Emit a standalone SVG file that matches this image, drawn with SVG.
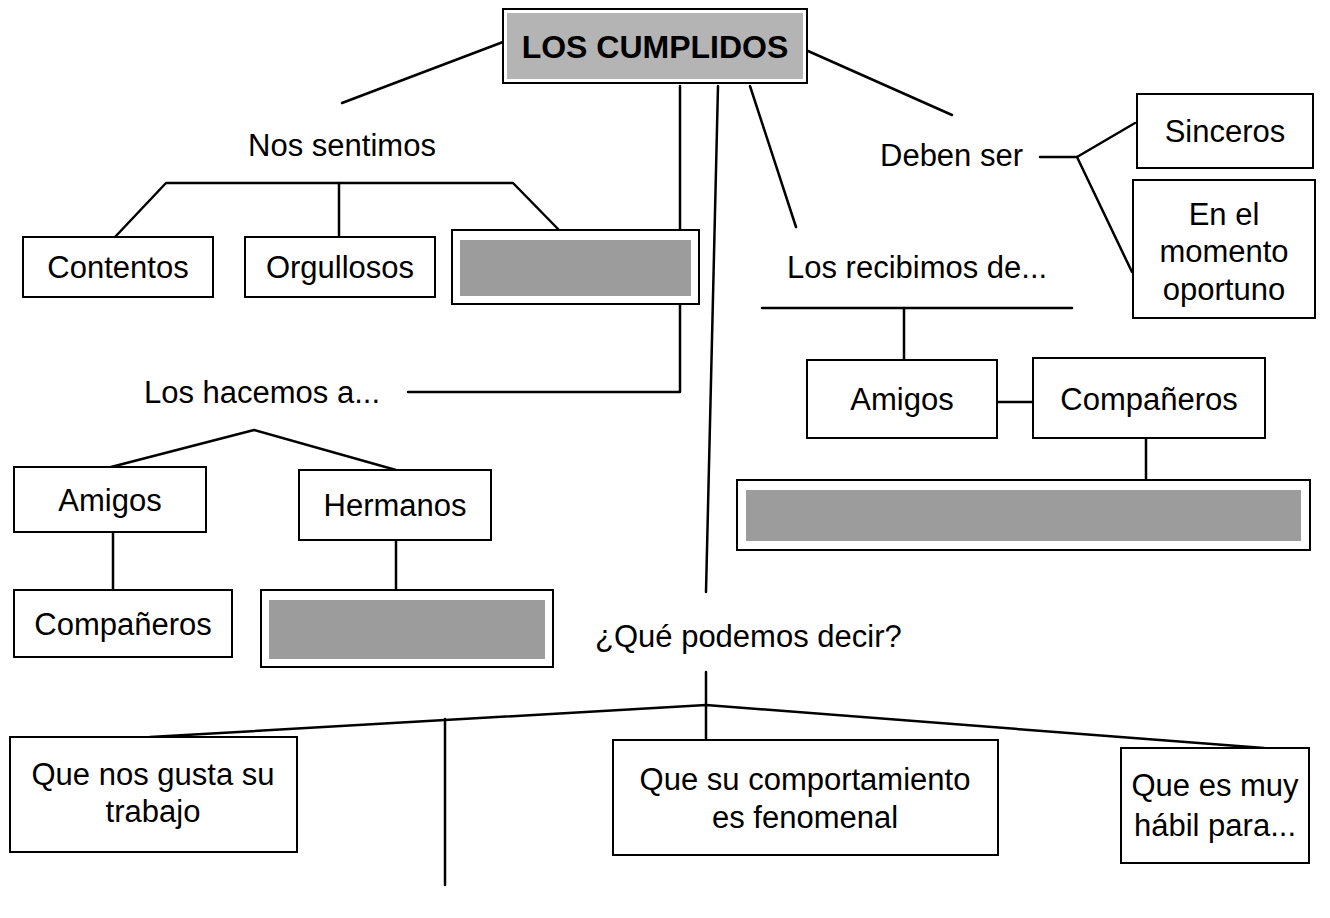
<svg xmlns="http://www.w3.org/2000/svg" width="1330" height="918" viewBox="0 0 1330 918">
<style>
  .bg{fill:#ffffff}
  .box{fill:#ffffff;stroke:#000;stroke-width:2}
  .shade{fill:#9c9c9c}
  .tshade{fill:#b4b4b4}
  .ln{fill:none;stroke:#000;stroke-width:2.5;stroke-linecap:round;stroke-linejoin:round}
  text{font-family:"Liberation Sans",Arial,Helvetica,sans-serif;font-size:31px;fill:#000}
  .c{text-anchor:middle}
  .title{font-weight:bold;font-size:32px}
</style>
<rect class="bg" x="0" y="0" width="1330" height="918"/>

<g id="connectors">
  <path class="ln" d="M503,42 L342,103"/>
  <path class="ln" d="M808,51 L952,115"/>
  <path class="ln" d="M680,86 L680,392 L408,392"/>
  <path class="ln" d="M718,86 L706,592"/>
  <path class="ln" d="M750,86 L796,227"/>
  <path class="ln" d="M115,237 L166,183 L513,183 L559,230"/>
  <path class="ln" d="M339,183 L339,237"/>
  <path class="ln" d="M111,467 L254,430 L396,470"/>
  <path class="ln" d="M113,532 L113,590"/>
  <path class="ln" d="M396,540 L396,590"/>
  <path class="ln" d="M1040,157 L1077,157 L1135,123"/>
  <path class="ln" d="M1077,157 L1132,272"/>
  <path class="ln" d="M762,308 L1072,308"/>
  <path class="ln" d="M904,308 L904,360"/>
  <path class="ln" d="M997,402 L1033,402"/>
  <path class="ln" d="M1146,438 L1146,480"/>
  <path class="ln" d="M706,672 L706,740"/>
  <path class="ln" d="M150,737 L706,705 L1264,748"/>
  <path class="ln" d="M445,719 L445,885"/>
</g>

<g id="title">
  <rect class="box" x="503" y="9" width="304" height="74"/>
  <rect class="tshade" x="507" y="13" width="296" height="66"/>
  <text class="c title" x="655" y="58">LOS CUMPLIDOS</text>
</g>

<g id="nos-sentimos"><text class="c" x="342" y="156">Nos sentimos</text></g>
<g id="contentos">
  <rect class="box" x="23" y="237" width="190" height="60"/>
  <text class="c" x="118" y="278">Contentos</text>
</g>
<g id="orgullosos">
  <rect class="box" x="245" y="237" width="190" height="60"/>
  <text class="c" x="340" y="278">Orgullosos</text>
</g>
<g id="blank1">
  <rect class="box" x="452" y="230" width="247" height="74"/>
  <rect class="shade" x="460" y="240" width="231" height="56"/>
</g>

<g id="los-hacemos"><text class="c" x="262" y="403">Los hacemos a...</text></g>
<g id="amigos-l">
  <rect class="box" x="14" y="467" width="192" height="65"/>
  <text class="c" x="110" y="511">Amigos</text>
</g>
<g id="hermanos">
  <rect class="box" x="299" y="470" width="192" height="70"/>
  <text class="c" x="395" y="516">Hermanos</text>
</g>
<g id="companeros-l">
  <rect class="box" x="14" y="590" width="218" height="67"/>
  <text class="c" x="123" y="635">Compañeros</text>
</g>
<g id="blank2">
  <rect class="box" x="261" y="590" width="292" height="77"/>
  <rect class="shade" x="269" y="600" width="276" height="59"/>
</g>

<g id="deben-ser"><text x="880" y="166">Deben ser</text></g>
<g id="sinceros">
  <rect class="box" x="1137" y="94" width="176" height="74"/>
  <text class="c" x="1225" y="142">Sinceros</text>
</g>
<g id="momento">
  <rect class="box" x="1133" y="180" width="182" height="138"/>
  <text class="c" x="1224" y="225">En el</text>
  <text class="c" x="1224" y="262">momento</text>
  <text class="c" x="1224" y="300">oportuno</text>
</g>

<g id="los-recibimos"><text x="787" y="278">Los recibimos de...</text></g>
<g id="amigos-r">
  <rect class="box" x="807" y="360" width="190" height="78"/>
  <text class="c" x="902" y="410">Amigos</text>
</g>
<g id="companeros-r">
  <rect class="box" x="1033" y="358" width="232" height="80"/>
  <text class="c" x="1149" y="410">Compañeros</text>
</g>
<g id="blank3">
  <rect class="box" x="737" y="480" width="573" height="70"/>
  <rect class="shade" x="746" y="490" width="555" height="51"/>
</g>

<g id="que-podemos"><text x="595" y="647">¿Qué podemos decir?</text></g>
<g id="q-gusta">
  <rect class="box" x="10" y="737" width="287" height="115"/>
  <text class="c" x="153" y="785">Que nos gusta su</text>
  <text class="c" x="153" y="822">trabajo</text>
</g>
<g id="q-comportamiento">
  <rect class="box" x="613" y="740" width="385" height="115"/>
  <text class="c" x="805" y="790">Que su comportamiento</text>
  <text class="c" x="805" y="828">es fenomenal</text>
</g>
<g id="q-habil">
  <rect class="box" x="1121" y="748" width="188" height="115"/>
  <text class="c" x="1215" y="796">Que es muy</text>
  <text class="c" x="1215" y="836">hábil para...</text>
</g>
</svg>
